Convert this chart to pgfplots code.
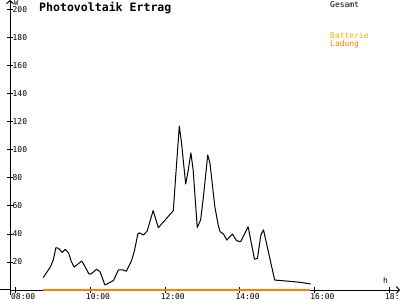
\documentclass[border=0pt]{standalone}
\usepackage{pgfplots}
\pgfplotsset{compat=1.18}
\usepackage{fontspec}
\setmainfont{DejaVu Sans Mono}
\usetikzlibrary{arrows.meta}
\definecolor{ladung}{RGB}{255,128,0}
\definecolor{batterie}{RGB}{255,176,0}
\pgfplotstableread{
h v
8.74 8.8
8.83 12.4
8.94 16.9
9.01 21.5
9.08 30.2
9.15 29.8
9.25 26.8
9.33 29.0
9.42 26.5
9.49 20.5
9.57 16.4
9.77 20.7
9.86 16.7
9.96 11.6
10.01 11.3
10.17 14.8
10.26 13.1
10.39 3.6
10.51 5.2
10.62 6.8
10.75 14.3
10.88 14.3
10.96 13.4
11.10 20.8
11.18 28
11.27 39.8
11.31 40.9
11.42 39.3
11.52 42.1
11.68 56.7
11.82 44.5
12.22 56.7
12.28 80
12.38 117.1
12.44 104.8
12.55 75.7
12.62 85.7
12.69 98
12.75 85.7
12.86 44.7
12.95 50
13.02 65.5
13.14 96.4
13.20 90.5
13.33 59.5
13.42 46.4
13.47 41.7
13.56 40
13.65 35.7
13.80 40
13.91 35.2
14.02 34.5
14.22 45.2
14.39 22
14.47 22.6
14.56 39.3
14.63 43
14.93 7.1
15.25 6.4
15.61 5.5
15.89 4.3
}\gesamt
\pgfplotstableread{
h v
8.735 0
15.87 0
}\ladungtab
\begin{document}
\begin{tikzpicture}
\useasboundingbox (0bp,0bp) rectangle (400bp,300bp);
\clip (0bp,0bp) rectangle (400bp,300bp);
\begin{axis}[
  at={(10bp,5bp)}, anchor=south west,
  scale only axis, width=390bp, height=295bp,
  xmin=7.853, xmax=18.281, ymin=-3.571, ymax=207.143,
  axis x line=middle, axis y line=left,
  axis line style={black, line width=1bp},
  x axis line style={-{Straight Barb[length=3bp,width=7bp]}},
  y axis line style={-{Straight Barb[length=3bp,width=7bp]}},
  xtick={8,10,12,14,16,18},
  xticklabels={08:00,10:00,12:00,14:00,16:00,18:00},
  ytick={20,40,60,80,100,120,140,160,180,200},
  yticklabels={20,40,60,80,100,120,140,160,180,200},
  tick align=center, major tick length=6bp,
  tick style={black, line width=1bp},
  xticklabel style={anchor=north west, inner sep=0pt, xshift=-4.5bp, yshift=-0.5bp, font=\fontsize{8}{8}\selectfont},
  yticklabel style={anchor=west, inner sep=0pt, xshift=5.5bp, font=\fontsize{8}{8}\selectfont},
  clip=false,
]
\addplot[ladung, line width=2bp] table[x=h,y=v] {\ladungtab};
\addplot[black, line width=1bp, line join=round] table[x=h,y=v] {\gesamt};
\end{axis}
\draw[black, line width=1bp] (0bp,10bp) -- (10bp,10bp);
\node[anchor=north west, inner sep=0pt, font=\fontsize{11.6}{11.6}\selectfont\bfseries] at (39bp,298bp) {Photovoltaik Ertrag};
\node[anchor=north west, inner sep=0pt, font=\fontsize{7}{7}\selectfont] at (14bp,299.5bp) {W};
\node[anchor=south west, inner sep=0pt, font=\fontsize{8}{8}\selectfont] at (383bp,16.5bp) {h};
\node[anchor=north west, inner sep=0pt, font=\fontsize{8}{8}\selectfont] at (330bp,299bp) {Gesamt};
\node[anchor=north west, inner sep=0pt, font=\fontsize{8}{8}\selectfont, text=batterie] at (330bp,268bp) {Batterie};
\node[anchor=north west, inner sep=0pt, font=\fontsize{8}{8}\selectfont, text=ladung] at (330bp,260bp) {Ladung};
\end{tikzpicture}
\end{document}
